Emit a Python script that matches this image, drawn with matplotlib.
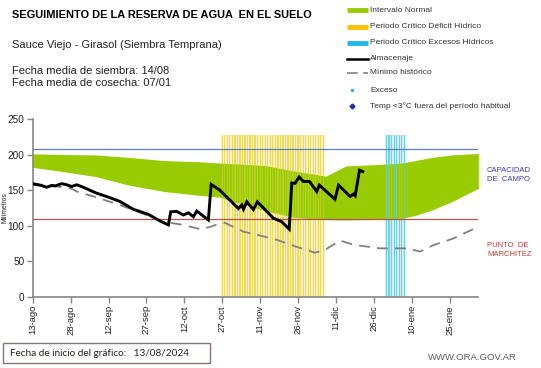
import matplotlib
matplotlib.use("Agg")
import matplotlib.pyplot as plt
from matplotlib.lines import Line2D
from matplotlib.patches import Rectangle
import numpy as np

plt.rcParams['font.family'] = ['Liberation Sans', 'DejaVu Sans']

# ---------------- data (x = days since 13/08/2024) ----------------
tick_days = [0, 15, 30, 45, 60, 75, 90, 105, 120, 135, 150, 165]
tick_labels = ["13-ago", "28-ago", "12-sep", "27-sep", "12-oct", "27-oct",
               "11-nov", "26-nov", "11-dic", "26-dic", "10-ene", "25-ene"]

band_days = [0, 12, 25, 38, 52, 65, 74, 80, 92, 103, 112, 116, 120, 124, 134,
             146, 152, 158, 166, 176.3]
band_top = [201, 200, 199.5, 196, 191.5, 190, 188, 187, 184.5, 177, 172, 169.5,
            177, 184, 185.5, 188, 192, 196, 199.5, 201.5]
band_bottom = [182, 176, 169, 157, 148, 143, 140, 133, 121, 112, 109, 108.5,
               108, 108, 108.5, 110, 115, 122, 134, 152.5]

alm_days = [0, 3, 5.5, 7.5, 9, 11.5, 13.5, 15.4, 17.4, 20, 25, 30, 34.5, 39.8,
            45.7, 50.4, 53.7, 54.6, 57, 59.6, 61.6, 63.6, 64.9, 69.5, 70.6, 74,
            76, 81.4, 82.7, 83.4, 84.7, 87.3, 88.9, 95.2, 98.5, 101.5, 102.5,
            103.8, 105.4, 107.1, 109.5, 112.4, 113.4, 119.6, 121, 125.6, 126.9,
            127.6, 129.3, 130.6]
almacenaje = [159, 157, 154, 156.5, 156, 159, 157.5, 155, 157.5, 154, 146, 140,
              134, 123, 116, 106.5, 101, 119.5, 120, 115, 118, 112.5, 120.5, 108,
              158, 150, 143, 124, 129, 123, 133.5, 122.5, 133.5, 110.5, 105.5,
              95, 160, 159.5, 168.5, 162, 162, 148, 157, 137, 157, 141, 144.5,
              142, 178, 176]

min_days = [0, 10, 15, 17.4, 25, 34.5, 43.8, 51.7, 59.6, 66.2, 70, 74, 76, 83.4,
            90, 96.6, 104.5, 111.7, 115.7, 121.6, 127, 137.4, 148, 153.3, 158.5,
            166.5, 176.3]
minimo = [157, 155, 152.5, 148, 140, 129, 116.5, 105.5, 101, 95, 98, 103, 104,
          91.5, 86, 80, 70, 62, 66, 79, 73, 68, 68, 63.5, 72.5, 82, 98.5]

deficit_days = list(range(75, 116))
exceso_days = list(range(140, 148))
bar_height = 228

capacidad_campo = 208
punto_marchitez = 110

# ---------------- figure ----------------
W, H = 541, 368
fig = plt.figure(figsize=(W / 100, H / 100), dpi=100)
ax = fig.add_axes([32.7 / W, 1 - 296.7 / H, (478.3 - 32.7) / W, (296.7 - 119) / H])

# critical period bars (under the band)
ax.bar(deficit_days, [bar_height] * len(deficit_days), width=1.0, color='#FAF1BC',
       lw=0, zorder=0.5)
ax.bar(deficit_days, [bar_height] * len(deficit_days), width=0.5, color='#EEDB62',
       lw=0, zorder=0.6)
ax.bar(exceso_days, [bar_height] * len(exceso_days), width=1.0, color='#CDEFF6',
       lw=0, zorder=0.5)
ax.bar(exceso_days, [bar_height] * len(exceso_days), width=0.5, color='#7CD2E8',
       lw=0, zorder=0.6)

ax.fill_between(band_days, band_bottom, band_top, color='#99CC00', lw=0, zorder=1)

# stripes showing through the band
ax.bar(deficit_days, [bar_height] * len(deficit_days), width=0.5, color='#E8D860',
       alpha=0.35, lw=0, zorder=2)
ax.bar(exceso_days, [bar_height] * len(exceso_days), width=0.5, color='#6FCDE6',
       alpha=0.55, lw=0, zorder=2)

ax.axhline(capacidad_campo, color='#5B7FC7', lw=0.9, zorder=3)
ax.axhline(punto_marchitez, color='#B85450', lw=0.9, zorder=3)

ax.plot(min_days, minimo, color='#808080', lw=1.3, ls=(0, (6, 4)), zorder=4)
ax.plot(alm_days, almacenaje, color='black', lw=2.1, zorder=5,
        solid_joinstyle='miter')

ax.set_xlim(0, 176.3)
ax.set_ylim(0, 250)
ax.set_yticks([0, 50, 100, 150, 200, 250])
ax.set_xticks(tick_days)
ax.set_xticklabels(tick_labels, rotation=90, fontsize=6.8, color='#222222')
ax.tick_params(axis='y', labelsize=7.2, colors='#222222', length=4, width=1,
               direction='out', pad=2)
ax.tick_params(axis='x', length=4, width=1, direction='out', pad=2)
ax.tick_params(color='#868686')
for s in ['top', 'right']:
    ax.spines[s].set_visible(False)
for s in ['left', 'bottom']:
    ax.spines[s].set_color('#868686')
    ax.spines[s].set_linewidth(1.2)

fig.text(5 / W, 1 - 208 / H, "Milímetros", rotation=90, fontsize=4.8,
         ha='center', va='center', color='#222222')

# ---------------- header texts ----------------
fig.text(12 / W, 1 - 15 / H, "SEGUIMIENTO DE LA RESERVA DE AGUA  EN EL SUELO",
         fontsize=7.9, fontweight='bold', ha='left', va='center', color='black')
fig.text(12 / W, 1 - 45 / H, "Sauce Viejo - Girasol (Siembra Temprana)",
         fontsize=8, ha='left', va='center', color='#222222')
fig.text(12 / W, 1 - 71 / H, "Fecha media de siembra: 14/08",
         fontsize=8, ha='left', va='center', color='#222222')
fig.text(12 / W, 1 - 83 / H, "Fecha media de cosecha: 07/01",
         fontsize=8, ha='left', va='center', color='#222222')

# ---------------- legend ----------------
leg_rows = [
    ("Intervalo Normal", 'patch', '#99CC00'),
    ("Periodo Crítico Déficit Hídrico", 'patch', '#FFC000'),
    ("Periodo Crítico Excesos Hídricos", 'patch', '#1FB8E8'),
    ("Almacenaje", 'line', 'black'),
    ("Mínimo histórico", 'dash', '#8C8C8C'),
    ("Exceso", 'dot', '#33BBDD'),
    ("Temp <3°C fuera del período habitual", 'diamond', '#1F2F9F'),
]
row_y = [10, 27, 43, 59, 73, 90, 106]
for (lab, kind, col), yy in zip(leg_rows, row_y):
    yf = 1 - yy / H
    x0, x1 = 347 / W, 368 / W
    if kind == 'patch':
        fig.add_artist(Line2D([x0, x1], [yf, yf], color=col, lw=3.5,
                              solid_capstyle='butt'))
    elif kind == 'line':
        fig.add_artist(Line2D([x0, x1], [yf, yf], color=col, lw=1.8))
    elif kind == 'dash':
        fig.add_artist(Line2D([x0, x1], [yf, yf], color=col, lw=1.3,
                              ls=(0, (6, 3))))
    elif kind == 'dot':
        fig.add_artist(Line2D([352 / W], [yf], color=col, marker='s', ms=2,
                              lw=0))
    elif kind == 'diamond':
        fig.add_artist(Line2D([352 / W], [yf], color=col, marker='D', ms=2.5,
                              lw=0))
    fig.text(370 / W, yf, lab, fontsize=6, ha='left', va='center',
             color='#333333')

# ---------------- right labels ----------------
fig.text(487 / W, 1 - 175 / H, "CAPACIDAD\nDE  CAMPO", fontsize=5.5,
         color='#3A3AB0', ha='left', va='center', linespacing=1.5)
fig.text(487 / W, 1 - 250 / H, "PUNTO  DE\nMARCHITEZ", fontsize=5.5,
         color='#C03A3A', ha='left', va='center', linespacing=1.5)

# ---------------- footer ----------------
fig.add_artist(Rectangle((3 / W, 1 - 363 / H), 207 / W, 20 / H,
                         transform=fig.transFigure, fill=False,
                         edgecolor='#8A7272', lw=1.0))
fig.text(10 / W, 1 - 353 / H, "Fecha de inicio del gráfico:   13/08/2024",
         fontsize=7.2, ha='left', va='center', color='#222222',
         family=['Lato', 'DejaVu Sans'])
fig.text(517 / W, 1 - 358 / H, "WWW.ORA.GOV.AR", fontsize=6.8,
         ha='right', va='center', color='#5A5A5A')

fig.savefig("out.png", dpi=100)
